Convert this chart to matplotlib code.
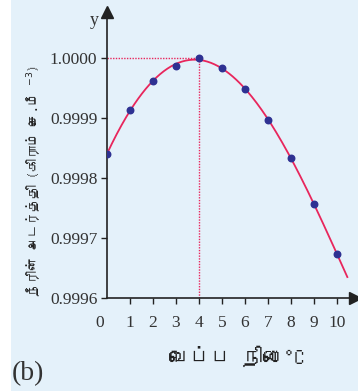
import numpy as np
import matplotlib
matplotlib.use("Agg")
import matplotlib.pyplot as plt
from matplotlib import font_manager
from matplotlib.ft2font import FT2Font
from matplotlib.patches import Rectangle

# water density against temperature
temps = [0, 1, 2, 3, 4, 5, 6, 7, 8, 9, 10]
density = [0.99984, 0.999913, 0.999962, 0.999987, 1.0000, 0.999983,
           0.999948, 0.999897, 0.999833, 0.999757, 0.999673]
yticks = [0.9996, 0.9997, 0.9998, 0.9999, 1.0000]
xticks = [1, 2, 3, 4, 5, 6, 7, 8, 9, 10]
peak_t, peak_rho = 4, 1.0000

ylabel = "நீரின் அடர்த்தி (கிராம் செ.மீ $^{-3}$)"
xlabel = "வெப்ப நிலை°C"

# look for an installed font that has Tamil glyphs
tamil = None
for f in font_manager.fontManager.ttflist:
    try:
        if 0x0BA4 in FT2Font(f.fname).get_charmap():
            tamil = f.name
            break
    except Exception:
        pass
fams = [tamil, "DejaVu Sans"] if tamil else ["DejaVu Sans"]

red = "#e8265c"
navy = "#2e3192"
bg = "#e4f1fa"

fig = plt.figure(figsize=(3.58, 3.91), dpi=100)
fig.patches.append(Rectangle((11 / 358, 0), 1, 1, transform=fig.transFigure,
                             facecolor=bg, edgecolor="none", zorder=-10))
ax = fig.add_axes([107 / 358, 93 / 391, 248 / 358, 286 / 391])
ax.patch.set_alpha(0)

ymin = yticks[0]
ymax = ymin + 0.0001 * 286 / 60
ax.set_xlim(0, 248 / 23)
ax.set_ylim(ymin, ymax)

# smooth curve through the measured points
fit = np.poly1d(np.polyfit(temps, density, 4))
tt = np.linspace(0, 10.45, 200)
ax.plot(tt, fit(tt), color=red, lw=1.3, zorder=3)
ax.scatter(temps, density, s=22, color=navy, zorder=4)

# dotted guides to the maximum
ax.plot([0, peak_t], [peak_rho, peak_rho], color=red, lw=1, ls=(0, (1, 1)), zorder=2)
ax.plot([peak_t, peak_t], [ymin, peak_rho], color=red, lw=1, ls=(0, (1, 1)), zorder=2)

for s in ["top", "right"]:
    ax.spines[s].set_visible(False)
for s in ["left", "bottom"]:
    ax.spines[s].set_color("#222222")
    ax.spines[s].set_linewidth(1.2)
ax.plot(1, 0, ">", color="#222222", ms=9, transform=ax.transAxes, clip_on=False)
ax.plot(0, 1, "^", color="#222222", ms=9, transform=ax.transAxes, clip_on=False)

ax.set_xticks(xticks)
ax.set_yticks(yticks)
ax.set_yticklabels([f"{v:.4f}" for v in yticks])
ax.tick_params(length=4, width=1, color="#222222", labelsize=12.5,
               labelcolor="#333333")
ax.tick_params(axis="x", pad=8)
ax.tick_params(axis="y", pad=3)
for lab in ax.get_xticklabels() + ax.get_yticklabels():
    lab.set_family("Liberation Serif")
ax.annotate("0", (0, ymin), xytext=(-2, -12), textcoords="offset points",
            ha="right", va="top", fontsize=12.5, color="#333333",
            family="Liberation Serif")
ax.text(-0.035, 1.0, "y", ha="right", va="top", fontsize=13, color="#333333",
        family="Liberation Serif", transform=ax.transAxes)

fig.text(237 / 358, 1 - 356 / 391, xlabel, ha="center", va="center",
         fontsize=15, fontweight="bold", family=fams, color="#222222")
fig.text(33 / 358, 1 - 181 / 391, ylabel, ha="center", va="center",
         rotation=90, fontsize=9.5, fontweight="bold", family=fams, color="#222222")
fig.text(12 / 358, 1 - 374 / 391, "(b)", ha="left", va="center",
         fontsize=20, family="Liberation Serif", color="#333333")

fig.savefig("out.png", dpi=100)
